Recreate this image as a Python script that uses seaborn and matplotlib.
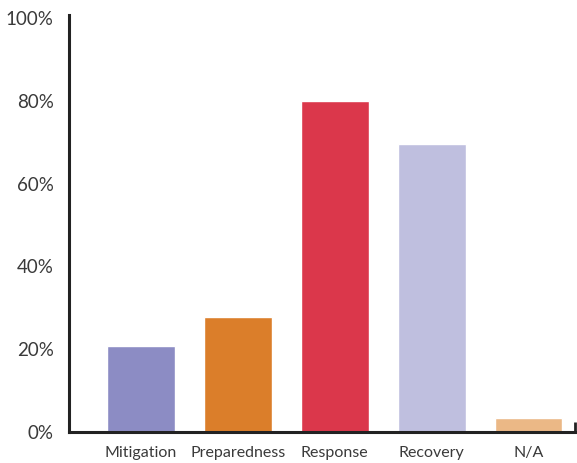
import matplotlib
matplotlib.use("Agg")
import matplotlib.pyplot as plt
import seaborn as sns
import pandas as pd

# Share of responses by disaster phase
phases = ["Mitigation", "Preparedness", "Response", "Recovery", "N/A"]
shares = [20.7, 27.7, 80.0, 69.5, 3.4]
colors = ["#8c8cc4", "#db7e2a", "#db374b", "#bfbfdf", "#ebb886"]
y_ticks = [0, 20, 40, 60, 80, 100]
y_tick_labels = ["0%", "20%", "40%", "60%", "80%", "100%"]

sns.set_style("white")
plt.rcParams["font.family"] = ["Lato", "DejaVu Sans"]

df = pd.DataFrame({"phase": phases, "share": shares})

fig = plt.figure(figsize=(5.77, 4.63), dpi=100)
ax = fig.add_axes([69 / 577, 31 / 463, 1 - 69 / 577, 417 / 463])

sns.barplot(data=df, x="phase", y="share", hue="phase", palette=colors,
            order=phases, hue_order=phases, width=0.70, legend=False,
            saturation=1, ax=ax)

ax.set_xlim(-0.742, 4.5)
ax.set_ylim(0, 100.7)
ax.set_yticks(y_ticks)
ax.set_yticklabels(y_tick_labels)
ax.set_xlabel("")
ax.set_ylabel("")

for side in ["top", "right"]:
    ax.spines[side].set_visible(False)
for side in ["left", "bottom"]:
    ax.spines[side].set_linewidth(2.2)
    ax.spines[side].set_color("#222222")

ax.tick_params(axis="y", length=0, pad=11, labelsize=13.5, labelcolor="#3a3a3a")
ax.tick_params(axis="x", length=0, pad=10, labelsize=11.5, labelcolor="#3a3a3a")

# small closing tick at the right end of the baseline
ax.plot([0.997, 0.997], [0, 0.025], transform=ax.transAxes, color="#222222",
        lw=2, clip_on=False, solid_capstyle="butt")

fig.savefig("out.png", dpi=100)
